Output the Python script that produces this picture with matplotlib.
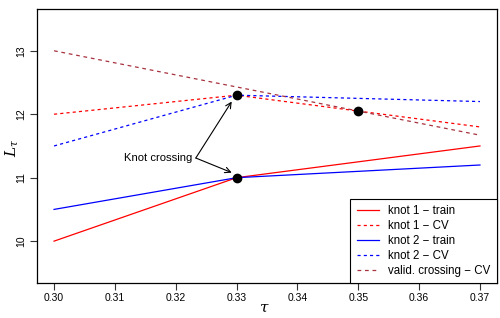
import matplotlib
matplotlib.use("Agg")
import matplotlib.pyplot as plt

# values
tau = [0.30, 0.33, 0.35, 0.37]
knot1_train = [10.0, 11.0, 11.25, 11.5]
knot2_train = [10.5, 11.0, 11.1, 11.2]
knot1_cv = [12.0, 12.3, 12.05, 11.8]
knot2_cv = [11.5, 12.3, 12.25, 12.2]
valid_cv = [13.0, 12.43, 12.05, 11.67]

cross_tau = [0.33, 0.35, 0.33]
cross_val = [12.3, 12.05, 11.0]

plt.rcParams['font.family'] = ['Liberation Sans', 'DejaVu Sans']
plt.rcParams['mathtext.fontset'] = 'dejavuserif'

fig = plt.figure(figsize=(5, 3.18), dpi=100)
ax = fig.add_axes([0.074, 0.110, 0.920, 0.862])

dot = (0, (2.5, 2.5))
ax.plot(tau, knot1_train, color='red', lw=0.9, label='knot 1 \u2212 train')
ax.plot(tau, knot1_cv, color='red', lw=0.9, ls=dot, label='knot 1 \u2212 CV')
ax.plot(tau, knot2_train, color='blue', lw=0.9, label='knot 2 \u2212 train')
ax.plot(tau, knot2_cv, color='blue', lw=0.9, ls=dot, label='knot 2 \u2212 CV')
ax.plot(tau, valid_cv, color='#a8323f', lw=0.9, ls=(0, (3, 3)),
        label='valid. crossing \u2212 CV')
ax.plot(cross_tau, cross_val, 'o', color='black', ms=6, zorder=5)

# annotation with two arrows
for tip in [(0.3292, 12.2), (0.3292, 11.08)]:
    ax.annotate('', xy=tip, xytext=(0.3233, 11.31),
                arrowprops=dict(arrowstyle='->', lw=0.8, color='black',
                                shrinkA=0, shrinkB=0))
ax.text(0.3227, 11.31, 'Knot crossing', ha='right', va='center', fontsize=8.1)

ax.set_xlim(0.2972, 0.3728)
ax.set_ylim(9.34, 13.66)
ax.set_xticks([0.30, 0.31, 0.32, 0.33, 0.34, 0.35, 0.36, 0.37])
ax.set_xticklabels(['0.30', '0.31', '0.32', '0.33', '0.34', '0.35', '0.36', '0.37'])
ax.set_yticks([10, 11, 12, 13])
for lab in ax.get_yticklabels():
    lab.set_rotation(90)
    lab.set_va('center')
ax.tick_params(labelsize=7.5, length=5, width=0.8, pad=2.5, color='#333333')
for s in ax.spines.values():
    s.set_linewidth(0.9)

fig.text(264 / 500, 1 - 308 / 318, r'$\tau$', fontsize=11, ha='center', va='center')
fig.text(12 / 500, 1 - 148 / 318, r'$L_{\tau}$', fontsize=11, ha='center',
         va='center', rotation=90)

leg = ax.legend(loc='lower right', fontsize=8.3, borderaxespad=0, fancybox=False,
                edgecolor='black', framealpha=1, handlelength=1.9,
                handletextpad=0.85, labelspacing=0.25, borderpad=0.55)
leg.get_frame().set_linewidth(0.8)

fig.savefig('out.png', dpi=100)
